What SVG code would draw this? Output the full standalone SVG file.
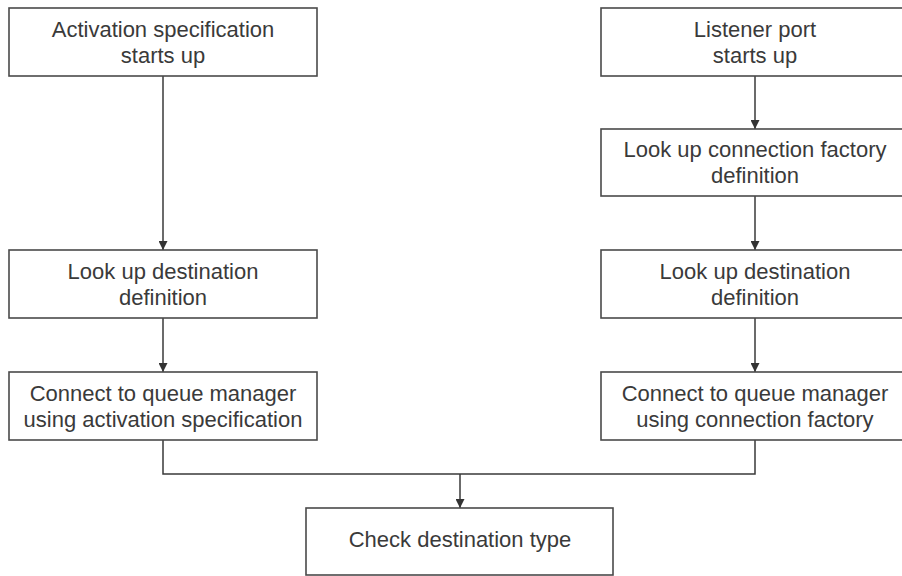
<svg xmlns="http://www.w3.org/2000/svg" width="902" height="576" viewBox="0 0 902 576">
<style>
.box{fill:#fff;stroke:#4a4a4a;stroke-width:1.6}
.t{font-family:"Liberation Sans",Arial,sans-serif;font-size:22px;fill:#3a3a3a;text-anchor:middle}
.c{fill:none;stroke:#3a3a3a;stroke-width:1.5}
</style>
<defs>
<marker id="ah" markerWidth="9" markerHeight="9" refX="9" refY="4.5" orient="auto" markerUnits="userSpaceOnUse">
<path d="M0,0 L9,4.5 L0,9 Z" fill="#333"/>
</marker>
</defs>
<rect width="902" height="576" fill="#fff"/>
<g id="connectors">
<line class="c" x1="163" y1="76" x2="163" y2="250" marker-end="url(#ah)"/>
<line class="c" x1="163" y1="318" x2="163" y2="372" marker-end="url(#ah)"/>
<line class="c" x1="755" y1="76" x2="755" y2="129" marker-end="url(#ah)"/>
<line class="c" x1="755" y1="196" x2="755" y2="250" marker-end="url(#ah)"/>
<line class="c" x1="755" y1="318" x2="755" y2="372" marker-end="url(#ah)"/>
<polyline class="c" points="163,440 163,474 755,474 755,440"/>
<line class="c" x1="460" y1="474" x2="460" y2="508" marker-end="url(#ah)"/>
</g>
<g id="activation-start">
<rect class="box" x="9" y="8" width="308" height="68"/>
<text class="t" x="163" y="37">Activation specification</text>
<text class="t" x="163" y="63">starts up</text>
</g>
<g id="left-lookup-destination">
<rect class="box" x="9" y="250" width="308" height="68"/>
<text class="t" x="163" y="279">Look up destination</text>
<text class="t" x="163" y="305">definition</text>
</g>
<g id="left-connect">
<rect class="box" x="9" y="372" width="308" height="68"/>
<text class="t" x="163" y="401">Connect to queue manager</text>
<text class="t" x="163" y="427">using activation specification</text>
</g>
<g id="listener-start">
<rect class="box" x="601" y="8" width="309" height="68"/>
<text class="t" x="755" y="37">Listener port</text>
<text class="t" x="755" y="63">starts up</text>
</g>
<g id="lookup-cf">
<rect class="box" x="601" y="129" width="309" height="67"/>
<text class="t" x="755" y="157">Look up connection factory</text>
<text class="t" x="755" y="183">definition</text>
</g>
<g id="right-lookup-destination">
<rect class="box" x="601" y="250" width="309" height="68"/>
<text class="t" x="755" y="279">Look up destination</text>
<text class="t" x="755" y="305">definition</text>
</g>
<g id="right-connect">
<rect class="box" x="601" y="372" width="309" height="68"/>
<text class="t" x="755" y="401">Connect to queue manager</text>
<text class="t" x="755" y="427">using connection factory</text>
</g>
<g id="check-destination">
<rect class="box" x="306" y="508" width="307" height="67"/>
<text class="t" x="460" y="547">Check destination type</text>
</g>
</svg>
